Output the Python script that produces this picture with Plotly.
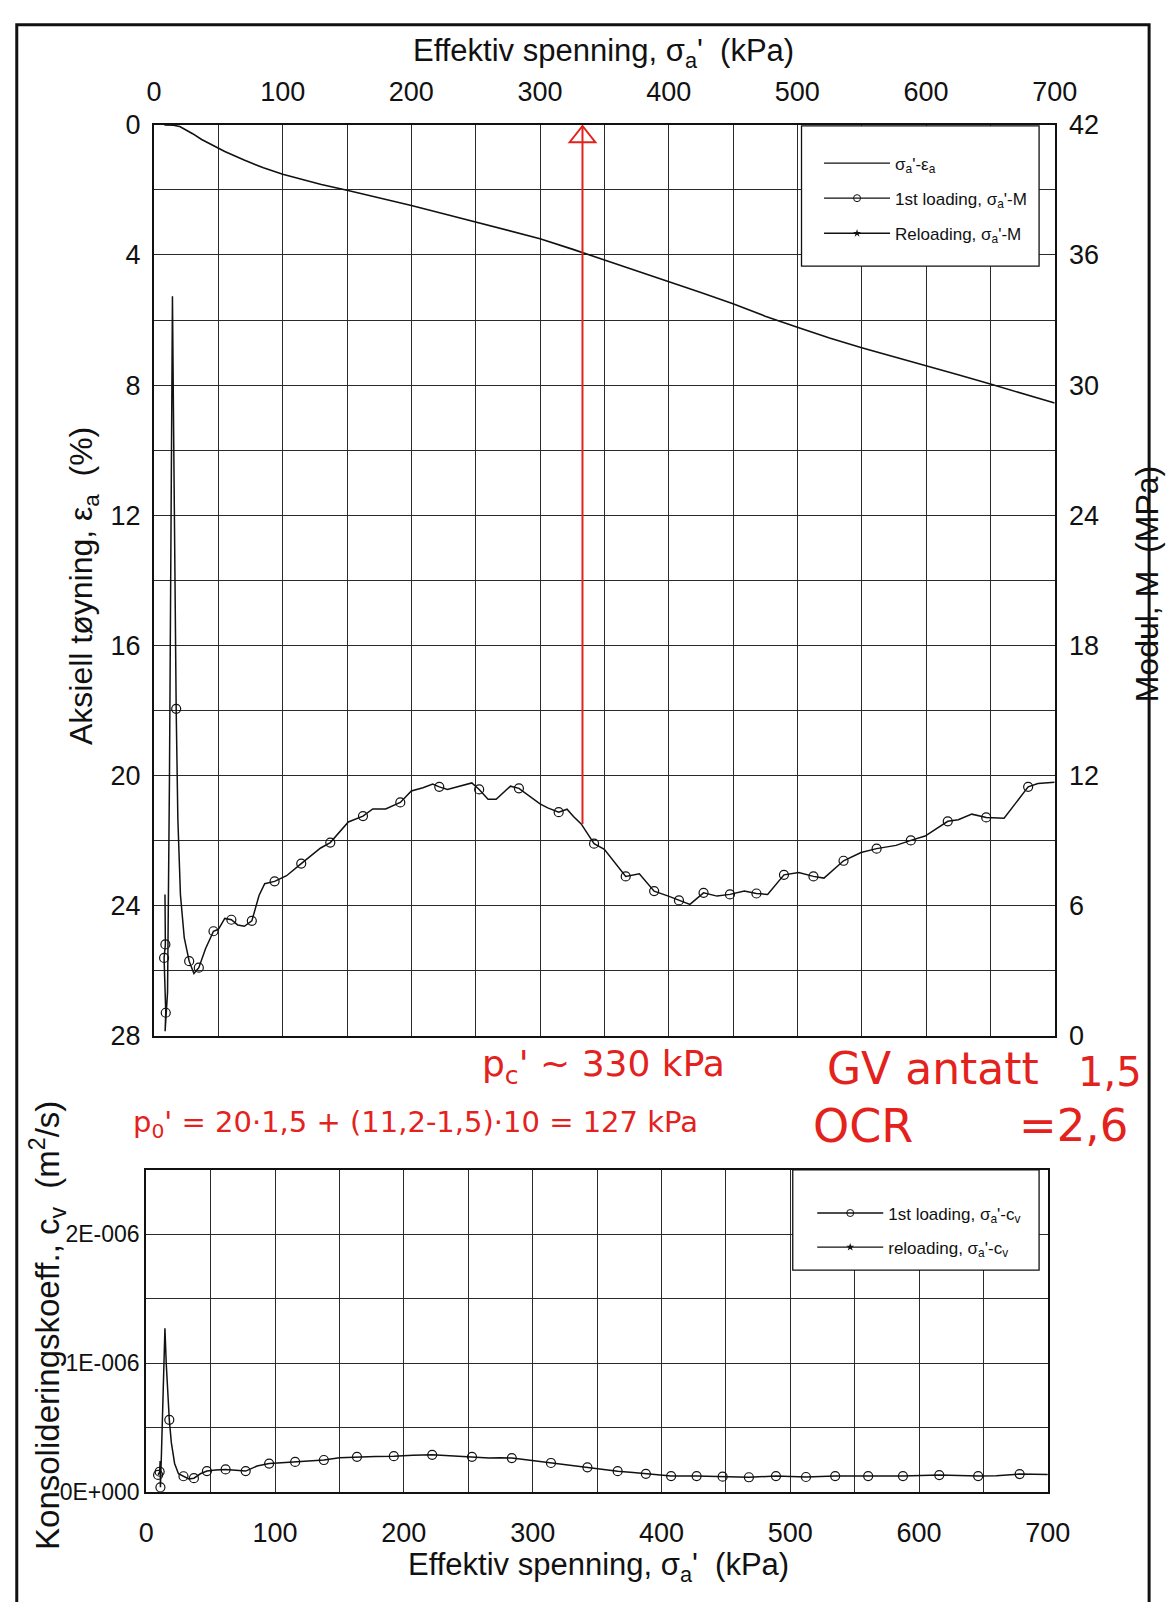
import plotly.graph_objects as go

W, H = 1176, 1602

# ---------------- data ----------------
# Axial strain vs effective stress
sigma_eps = [8, 15, 20, 25, 30, 37, 44, 55, 70, 85, 100, 115, 130, 150, 175, 200, 225, 250,
             275, 300, 325, 350, 375, 400, 425, 450, 475, 500, 525, 550, 575, 600, 625,
             650, 675, 700]
eps_a = [0.0, 0.01, 0.05, 0.15, 0.27, 0.45, 0.6, 0.82, 1.08, 1.32, 1.52, 1.68, 1.83, 2.01,
         2.24, 2.48, 2.73, 2.98, 3.23, 3.5, 3.82, 4.15, 4.48, 4.82, 5.15, 5.5, 5.88, 6.22,
         6.55, 6.85, 7.12, 7.4, 7.68, 7.97, 8.25, 8.55]

# Modulus M, 1st loading (curve)
sigma_M = [8.5, 8.8, 7.8, 9.1, 8.6, 10.5, 12.0, 13.2, 14.3, 15.2, 16.3, 17.2, 18.5, 20.5,
           23.5, 27.3, 31.0, 34.8, 40.0, 46.2, 50.0, 55.0, 60.1, 65.0, 70.2, 76.0, 81.6,
           86.0, 93.7, 103.0, 114.4, 122.0, 129.5, 137.0, 144.0, 151.0, 162.4, 170.0,
           180.0, 191.4, 200.0, 209.0, 216.6, 221.7, 228.0, 247.0, 252.7, 259.6, 265.9,
           277.0, 283.6, 300.0, 306.0, 314.5, 321.0, 326.0, 332.0, 342.0, 350.0, 366.6,
           377.2, 388.7, 399.8, 408.0, 416.5, 427.1, 437.6, 447.6, 458.8, 468.2, 476.9,
           489.6, 501.1, 512.5, 520.7, 535.9, 549.5, 561.6, 576.7, 588.2, 599.3, 616.9,
           625.1, 635.6, 646.8, 660.7, 679.4, 687.0, 700.0]
modul_M = [6.5, 4.2, 3.58, 1.05, 0.2, 2.0, 12.0, 25.0, 34.1, 28.0, 20.0, 15.07, 10.0, 6.5,
           4.5, 3.43, 2.86, 3.13, 4.0, 4.81, 4.9, 5.4, 5.34, 5.1, 5.04, 5.29, 6.46, 7.0,
           7.11, 7.37, 7.93, 8.3, 8.65, 8.9, 9.4, 9.85, 10.12, 10.45, 10.45, 10.75, 11.28,
           11.43, 11.6, 11.47, 11.35, 11.65, 11.35, 10.9, 10.9, 11.5, 11.4, 10.68, 10.5,
           10.3, 10.44, 10.1, 9.76, 8.85, 8.59, 7.34, 7.46, 6.66, 6.43, 6.23, 6.05, 6.58,
           6.43, 6.51, 6.66, 6.55, 6.51, 7.41, 7.52, 7.34, 7.26, 8.06, 8.44, 8.62, 8.77,
           9.0, 9.2, 9.88, 9.95, 10.21, 10.06, 10.02, 11.47, 11.62, 11.68]
# Modulus M, 1st loading (measured points shown with circles)
sigma_M_pts = [8.8, 7.8, 9.1, 17.2, 27.3, 34.8, 46.2, 60.1, 76.0, 93.7, 114.4, 137.0,
               162.4, 191.4, 221.7, 252.7, 283.6, 314.5, 342.0, 366.6, 388.7, 408.0,
               427.1, 447.6, 468.2, 489.6, 512.5, 535.9, 561.6, 588.2, 616.9, 646.8, 679.4]
modul_M_pts = [4.2, 3.58, 1.05, 15.07, 3.43, 3.13, 4.81, 5.34, 5.29, 7.11, 7.93, 8.9,
               10.12, 10.75, 11.47, 11.35, 11.4, 10.3, 8.85, 7.34, 6.66, 6.23, 6.58, 6.51,
               6.55, 7.41, 7.34, 8.06, 8.62, 9.0, 9.88, 10.06, 11.47]

# Coefficient of consolidation cv, 1st loading (curve)
sigma_cv = [9.2, 10.4, 10.8, 11.0, 11.8, 13.0, 14.5, 15.5, 16.8, 17.9, 19.5, 22.0, 25.0,
            28.9, 33.0, 37.0, 42.0, 47.1, 54.0, 61.6, 70.0, 77.2, 86.0, 95.4, 105.0,
            115.6, 127.0, 137.9, 150.0, 163.6, 178.0, 192.2, 207.0, 222.0, 237.0, 252.9,
            266.0, 275.0, 283.8, 298.0, 314.2, 328.0, 342.5, 355.0, 366.0, 378.0, 387.9,
            400.0, 407.5, 427.3, 447.5, 467.9, 488.9, 512.2, 534.9, 560.5, 587.5, 615.7,
            645.9, 660.0, 678.1, 700.0]
cv = [1.31e-7, 1.56e-7, 2.4e-7, 3.5e-8, 3.0e-7, 8.0e-7, 1.27e-6, 1.0e-6, 7.0e-7, 5.59e-7,
      3.8e-7, 2.2e-7, 1.4e-7, 1.21e-7, 1.0e-7, 1.06e-7, 1.4e-7, 1.61e-7, 1.7e-7, 1.74e-7,
      1.7e-7, 1.61e-7, 2.0e-7, 2.19e-7, 2.25e-7, 2.32e-7, 2.38e-7, 2.47e-7, 2.65e-7,
      2.72e-7, 2.74e-7, 2.77e-7, 2.85e-7, 2.87e-7, 2.8e-7, 2.72e-7, 2.62e-7, 2.65e-7,
      2.62e-7, 2.45e-7, 2.24e-7, 2.1e-7, 1.9e-7, 1.75e-7, 1.6e-7, 1.5e-7, 1.4e-7, 1.25e-7,
      1.22e-7, 1.22e-7, 1.18e-7, 1.13e-7, 1.22e-7, 1.15e-7, 1.22e-7, 1.22e-7, 1.22e-7,
      1.3e-7, 1.22e-7, 1.25e-7, 1.38e-7, 1.35e-7]
# cv measured points (circles)
sigma_cv_pts = [9.2, 10.4, 11.0, 17.9, 28.9, 37.0, 47.1, 61.6, 77.2, 95.4, 115.6, 137.9,
                163.6, 192.2, 222.0, 252.9, 283.8, 314.2, 342.5, 366.0, 387.9, 407.5,
                427.3, 447.5, 467.9, 488.9, 512.2, 534.9, 560.5, 587.5, 615.7, 645.9, 678.1]
cv_pts = [1.31e-7, 1.56e-7, 3.5e-8, 5.59e-7, 1.21e-7, 1.06e-7, 1.61e-7, 1.74e-7, 1.61e-7,
          2.19e-7, 2.32e-7, 2.47e-7, 2.72e-7, 2.77e-7, 2.87e-7, 2.72e-7, 2.62e-7, 2.24e-7,
          1.9e-7, 1.6e-7, 1.4e-7, 1.22e-7, 1.22e-7, 1.18e-7, 1.13e-7, 1.22e-7, 1.15e-7,
          1.22e-7, 1.22e-7, 1.22e-7, 1.3e-7, 1.22e-7, 1.38e-7]

# ticks
stress_ticks = [0, 100, 200, 300, 400, 500, 600, 700]
strain_ticks = [0, 4, 8, 12, 16, 20, 24, 28]
modul_ticks = [0, 6, 12, 18, 24, 30, 36, 42]
cv_ticks = [0, 1e-6, 2e-6]
cv_ticktext = ["0E+000", "1E-006", "2E-006"]

# hand-written interpretation
pc_line_kPa = 333
pc_line_M = 9.76

# ---------------- styling helpers ----------------
def px(x):
    return x / W


def py(y):
    return 1 - y / H


FONT = "Liberation Sans, Arial, sans-serif"
BLACK = "#111111"
GRID = "#2a2a2a"
RED = "#e3221d"

fig = go.Figure()

fig.add_trace(go.Scatter(x=sigma_eps, y=eps_a, xaxis="x", yaxis="y", mode="lines",
                         line=dict(color=BLACK, width=1.6), showlegend=False))
fig.add_trace(go.Scatter(x=sigma_M, y=modul_M, xaxis="x", yaxis="y2", mode="lines",
                         line=dict(color=BLACK, width=1.5), showlegend=False))
fig.add_trace(go.Scatter(x=sigma_M_pts, y=modul_M_pts, xaxis="x", yaxis="y2", mode="markers",
                         marker=dict(symbol="circle-open", size=9, color=BLACK,
                                     line=dict(width=1.2, color=BLACK)), showlegend=False))
fig.add_trace(go.Scatter(x=sigma_cv, y=cv, xaxis="x2", yaxis="y3", mode="lines",
                         line=dict(color=BLACK, width=1.5), showlegend=False))
fig.add_trace(go.Scatter(x=sigma_cv_pts, y=cv_pts, xaxis="x2", yaxis="y3", mode="markers",
                         marker=dict(symbol="circle-open", size=9, color=BLACK,
                                     line=dict(width=1.2, color=BLACK)), showlegend=False))

# legend entries (top)
leg_line = dict(color=BLACK, width=1.3)
fig.add_trace(go.Scatter(x=[None], y=[None], xaxis="x", yaxis="y", mode="lines", line=leg_line,
                         name="σ<sub>a</sub>'-ε<sub>a</sub>", legend="legend", legendgroup="g1"))
fig.add_trace(go.Scatter(x=[None], y=[None], xaxis="x", yaxis="y", mode="lines+markers", line=leg_line,
                         marker=dict(symbol="circle-open", size=7, color=BLACK),
                         name="1st loading, σ<sub>a</sub>'-M", legend="legend", legendgroup="g2"))
fig.add_trace(go.Scatter(x=[None], y=[None], xaxis="x", yaxis="y", mode="lines+markers", line=leg_line,
                         marker=dict(symbol="star", size=6, color=BLACK),
                         name="Reloading, σ<sub>a</sub>'-M", legend="legend", legendgroup="g3"))
# legend entries (bottom)
fig.add_trace(go.Scatter(x=[None], y=[None], xaxis="x2", yaxis="y3", mode="lines+markers", line=leg_line,
                         marker=dict(symbol="circle-open", size=7, color=BLACK),
                         name="1st loading, σ<sub>a</sub>'-c<sub>v</sub>", legend="legend2", legendgroup="h1"))
fig.add_trace(go.Scatter(x=[None], y=[None], xaxis="x2", yaxis="y3", mode="lines+markers", line=leg_line,
                         marker=dict(symbol="star", size=6, color=BLACK),
                         name="reloading, σ<sub>a</sub>'-c<sub>v</sub>", legend="legend2", legendgroup="h2"))

tickfont = dict(family=FONT, size=27, color=BLACK)
base = dict(showline=True, linecolor=BLACK, linewidth=2, mirror=True, zeroline=False,
            showgrid=True, gridcolor=GRID, gridwidth=1, ticks="outside",
            tickcolor="rgba(0,0,0,0)", tickfont=tickfont)

fig.update_layout(
    width=W, height=H, margin=dict(l=0, r=0, t=0, b=0),
    paper_bgcolor="white", plot_bgcolor="white",
    xaxis=dict(base, domain=[px(150), px(1075)], anchor="y", side="top", range=[0, 700],
               tickmode="array", tickvals=stress_ticks, ticklen=11,
               minor=dict(tickmode="linear", tick0=0, dtick=50, showgrid=True,
                          gridcolor=GRID, gridwidth=1)),
    yaxis=dict(base, domain=[py(1040), py(112)], anchor="x", range=[28, 0],
               tickmode="array", tickvals=strain_ticks, ticklen=6,
               minor=dict(tickmode="linear", tick0=0, dtick=2, showgrid=True,
                          gridcolor=GRID, gridwidth=1)),
    yaxis2=dict(overlaying="y", anchor="x", side="right", range=[0, 42], tickmode="array",
                tickvals=modul_ticks, showgrid=False, zeroline=False, showline=False,
                ticks="outside", ticklen=8, tickcolor="rgba(0,0,0,0)", tickfont=tickfont),
    xaxis2=dict(base, domain=[px(142), px(1068)], anchor="y3", side="bottom", range=[0, 700],
                tickmode="array", tickvals=stress_ticks, ticklen=16,
                minor=dict(tickmode="linear", tick0=0, dtick=50, showgrid=True,
                           gridcolor=GRID, gridwidth=1)),
    yaxis3=dict(base, domain=[py(1505), py(1177)], anchor="x2", range=[0, 2.5e-6],
                tickmode="array", tickvals=cv_ticks, ticktext=cv_ticktext, ticklen=0,
                tickfont=dict(family=FONT, size=23, color=BLACK),
                minor=dict(tickmode="linear", tick0=0, dtick=0.5e-6, showgrid=True,
                           gridcolor=GRID, gridwidth=1)),
    legend=dict(x=px(833), y=py(133), xanchor="left", yanchor="top", bgcolor="rgba(0,0,0,0)",
                borderwidth=0, font=dict(family=FONT, size=17, color=BLACK), itemwidth=66,
                traceorder="grouped", tracegroupgap=10),
    legend2=dict(x=px(826), y=py(1203), xanchor="left", yanchor="top", bgcolor="rgba(0,0,0,0)",
                 borderwidth=0, font=dict(family=FONT, size=17, color=BLACK), itemwidth=66,
                 traceorder="grouped", tracegroupgap=9),
)

shapes = [
    # outer frame
    dict(type="rect", xref="paper", yref="paper", x0=px(9), x1=px(1172), y0=py(1640), y1=py(10),
         line=dict(color=BLACK, width=3), fillcolor="rgba(0,0,0,0)", layer="above"),
    # legend boxes
    dict(type="rect", xref="paper", yref="paper", x0=px(815), x1=px(1059), y0=py(256), y1=py(113),
         line=dict(color=BLACK, width=1.3), fillcolor="white", layer="above"),
    dict(type="rect", xref="paper", yref="paper", x0=px(806), x1=px(1059), y0=py(1279), y1=py(1177),
         line=dict(color=BLACK, width=1.3), fillcolor="white", layer="above"),
    # red preconsolidation line with open arrow head
    dict(type="line", xref="x", yref="y2", x0=pc_line_kPa, x1=pc_line_kPa, y0=pc_line_M, y1=41.95,
         line=dict(color=RED, width=2), layer="above"),
    dict(type="path", xref="x", yref="y2",
         path=f"M {pc_line_kPa - 10},41.2 L {pc_line_kPa},41.95 L {pc_line_kPa + 10},41.2 Z",
         line=dict(color=RED, width=2), fillcolor="rgba(0,0,0,0)", layer="above"),
]
fig.update_layout(shapes=shapes)

xtitle_font = dict(family=FONT, size=31, color=BLACK)
ytitle_font = dict(family=FONT, size=32, color=BLACK)
HAND = "DejaVu Sans, sans-serif"


def note(text, x, y, size):
    return dict(text=text, x=px(x), y=py(y), xref="paper", yref="paper", showarrow=False,
                font=dict(family=HAND, size=size, color=RED), xanchor="center", yanchor="middle")


annotations = [
    dict(text="Effektiv spenning, σ<sub>a</sub>'  (kPa)", x=px(612), y=py(39), xref="paper", yref="paper",
         showarrow=False, font=xtitle_font, xanchor="center", yanchor="middle"),
    dict(text="Effektiv spenning, σ<sub>a</sub>'  (kPa)", x=px(606), y=py(1582), xref="paper", yref="paper",
         showarrow=False, font=xtitle_font, xanchor="center", yanchor="middle"),
    dict(text="Aksiell tøyning, ε<sub>a</sub>  (%)", x=px(77), y=py(582), xref="paper", yref="paper",
         showarrow=False, font=ytitle_font, textangle=-90, xanchor="center", yanchor="middle"),
    dict(text="Modul, M  (MPa)", x=px(1170), y=py(580), xref="paper", yref="paper",
         showarrow=False, font=ytitle_font, textangle=-90, xanchor="center", yanchor="middle"),
    dict(text="Konsolideringskoeff., c<sub>v</sub>  (m<sup>2</sup>/s)", x=px(40), y=py(1335),
         xref="paper", yref="paper", showarrow=False, font=dict(family=FONT, size=33, color=BLACK),
         textangle=-90, xanchor="center", yanchor="middle"),
    # handwritten notes
    note("p<sub>c</sub>' ~ 330 kPa", 612, 1072, 36),
    note("GV antatt", 950, 1074, 44),
    note("1,5", 1132, 1077, 40),
    note("p<sub>0</sub>' = 20·1,5 + (11,2-1,5)·10 = 127 kPa", 419, 1130, 29),
    note("OCR", 878, 1132, 46),
    note("=2,6", 1094, 1132, 45),
]
fig.update_layout(annotations=annotations)

fig.write_html(
    "out.html",
    post_script="document.body.style.margin='0';document.body.style.padding='0';",
)
